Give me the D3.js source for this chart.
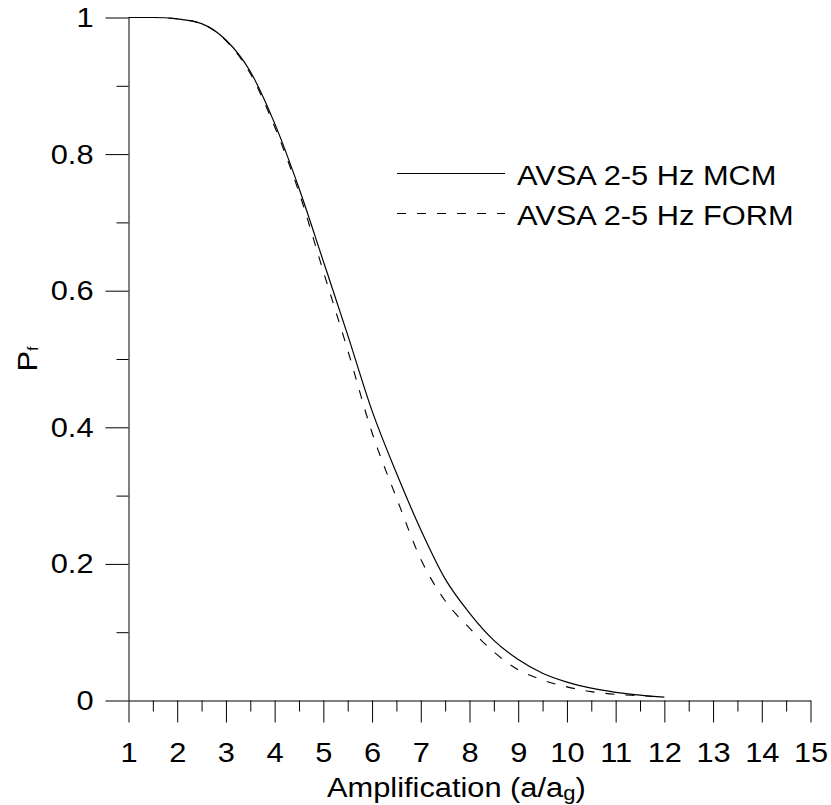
<!DOCTYPE html>
<html>
    <head>
        <meta charset="UTF-8">
        <script src="https://d3js.org/d3.v7.min.js"></script>
        <style>
            body{ margin: 0; background: white; }
            text{ font-family: "Liberation Sans", Arial, sans-serif; fill: black; }
        </style>
    </head>
    <body>
        <svg id="chart" width="831" height="805"></svg>
    </body>
    <script>
        // values
        var amp = [1, 1.5, 2, 2.5, 3, 3.5, 4, 4.5, 5, 5.5, 6, 6.5, 7, 7.5, 8, 8.5, 9, 9.5, 10, 10.5, 11, 11.5, 12]
        var pfMCM = [1.000, 1.000, 0.998, 0.991, 0.967, 0.921, 0.845, 0.750, 0.643, 0.535, 0.424, 0.333, 0.250, 0.178, 0.128, 0.088, 0.060, 0.040, 0.027, 0.018, 0.012, 0.008, 0.005]
        var pfFORM = [1.000, 1.000, 0.998, 0.991, 0.966, 0.918, 0.840, 0.744, 0.628, 0.513, 0.392, 0.297, 0.207, 0.146, 0.106, 0.071, 0.045, 0.030, 0.020, 0.013, 0.009, 0.007, 0.005]
        var xMajor = [1, 2, 3, 4, 5, 6, 7, 8, 9, 10, 11, 12, 13, 14, 15]
        var xMinor = [1.5, 2.5, 3.5, 4.5, 5.5, 6.5, 7.5, 8.5, 9.5, 10.5, 11.5, 12.5, 13.5, 14.5]
        var yMajor = [0, 0.2, 0.4, 0.6, 0.8, 1]
        var yMinor = [0.1, 0.3, 0.5, 0.7, 0.9]
        var seriesNames = ["AVSA 2-5 Hz MCM", "AVSA 2-5 Hz FORM"]

        var svg = d3.select("#chart")
        var x = d3.scaleLinear().domain([1, 15]).range([128.5, 810.5])
        var y = d3.scaleLinear().domain([0, 1]).range([700.5, 17.5])
        var stretch = "scale(1.1,1)"   // the text in the picture is a bit wider than Arial

        // y axis: long ticks with labels, short ticks between
        svg.append("g").attr("transform", "translate(128.5,0)")
            .call(d3.axisLeft(y).tickValues(yMajor).tickSize(23).tickSizeOuter(0).tickPadding(8.8)
                .tickFormat(function(d){ return d == 0 || d == 1 ? d3.format("d")(d) : d3.format(".1f")(d) }))
        svg.append("g").attr("transform", "translate(128.5,0)")
            .call(d3.axisLeft(y).tickValues(yMinor).tickSize(12).tickFormat(""))
            .select(".domain").remove()

        // x axis
        svg.append("g").attr("transform", "translate(0,700.5)")
            .call(d3.axisBottom(x).tickValues(xMajor).tickSize(22).tickSizeOuter(0).tickPadding(20))
        svg.append("g").attr("transform", "translate(0,700.5)")
            .call(d3.axisBottom(x).tickValues(xMinor).tickSize(11).tickFormat(""))
            .select(".domain").remove()

        svg.selectAll(".tick text")
            .attr("font-family", "Liberation Sans, Arial, sans-serif")
            .attr("font-size", 28)
            .attr("transform", stretch)
        svg.selectAll(".tick line, .domain").attr("stroke", "#000")

        // axis titles
        var xt = svg.append("text").attr("transform", "translate(327,797) " + stretch).attr("font-size", 28)
        xt.append("tspan").text("Amplification (a/a")
        xt.append("tspan").attr("font-size", 20).attr("dy", 3).text("g")
        xt.append("tspan").attr("dy", -3).text(")")

        var yt = svg.append("text").attr("transform", "translate(37,359) rotate(-90) " + stretch)
            .attr("text-anchor", "middle").attr("font-size", 28)
        yt.append("tspan").text("P")
        yt.append("tspan").attr("font-size", 14).attr("dy", 1).text("f")

        // curves
        var line = d3.line().curve(d3.curveMonotoneX)
            .x(function(d){ return x(d[0]) })
            .y(function(d){ return y(d[1]) })

        svg.append("path").datum(d3.zip(amp, pfFORM))
            .attr("d", line).attr("fill", "none").attr("stroke", "#000")
            .attr("stroke-width", 1.1).attr("stroke-dasharray", "9,11")
        svg.append("path").datum(d3.zip(amp, pfMCM))
            .attr("d", line).attr("fill", "none").attr("stroke", "#000")
            .attr("stroke-width", 1.2)

        // legend
        var legend = svg.append("g").selectAll("g").data(seriesNames).enter().append("g")
            .attr("transform", function(d, i){ return "translate(0," + (173 + i * 40) + ")" })
        legend.append("line").attr("x1", 397).attr("x2", 505).attr("y1", 0.5).attr("y2", 0.5)
            .attr("stroke", "#000").attr("stroke-width", 1.1)
            .attr("stroke-dasharray", function(d, i){ return i == 1 ? "9,11" : null })
        legend.append("text").attr("transform", "translate(517,12) " + stretch).attr("font-size", 28)
            .text(function(d){ return d })
    </script>
</html>
